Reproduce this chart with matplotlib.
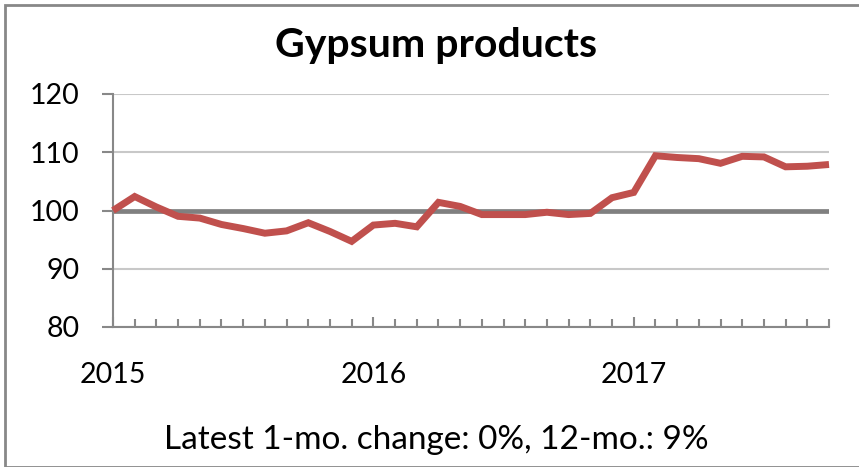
import matplotlib
matplotlib.use("Agg")
import matplotlib.pyplot as plt
from matplotlib.patches import Rectangle

plt.rcParams['font.family'] = ['Lato', 'DejaVu Sans']

# Monthly index, Jan 2015 - Oct 2017
months = list(range(34))
values = [100.0, 102.4, 100.6, 99.0, 98.7, 97.6, 96.9, 96.1, 96.5, 97.9, 96.4, 94.7,
          97.5, 97.8, 97.2, 101.4, 100.7, 99.3, 99.3, 99.3, 99.7, 99.3, 99.5, 102.2,
          103.1, 109.4, 109.1, 108.9, 108.1, 109.3, 109.2, 107.5, 107.6, 107.9]
year_ticks = [0, 12, 24]
year_labels = ['2015', '2016', '2017']
y_ticks = [80, 90, 100, 110, 120]
title = 'Gypsum products'
footer = 'Latest 1-mo. change: 0%, 12-mo.: 9%'

W, H = 859, 467
fig = plt.figure(figsize=(W / 100, H / 100), dpi=100)

# plot area in pixels: left 113, right 829, top 94, bottom 327
ax = fig.add_axes([113 / W, 1 - 327 / H, (829 - 113) / W, (327 - 94) / H])

ax.set_xlim(0, 33)
ax.set_ylim(80, 120)

ax.set_yticks(y_ticks)
ax.yaxis.grid(True, color='#c8c8c8', linewidth=1.5)
ax.set_axisbelow(True)
ax.axhline(100, color='#808080', linewidth=3.4, zorder=2)

ax.plot(months, values, color='#C0504D', linewidth=5.0, solid_joinstyle='miter',
        solid_capstyle='butt', zorder=3, clip_on=False)

ax.set_xticks(year_ticks)
ax.set_xticklabels(year_labels)
ax.set_xticks(months, minor=True)

for side in ('top', 'right'):
    ax.spines[side].set_visible(False)
for side in ('left', 'bottom'):
    ax.spines[side].set_color('#888888')
    ax.spines[side].set_linewidth(1.5)

ax.tick_params(axis='y', which='major', direction='out', length=8, width=1.5,
               color='#888888', pad=16, labelsize=20.5, labelcolor='black')
ax.tick_params(axis='x', which='major', direction='in', length=7.5, width=1.5,
               color='#888888', pad=25, labelsize=20.5, labelcolor='black')
ax.tick_params(axis='x', which='minor', direction='in', length=6, width=1.5,
               color='#888888')

fig.text(436 / W, 1 - 45 / H, title, ha='center', va='center',
         fontsize=29.5, fontweight='bold')
fig.text(436 / W, 1 - 440 / H, footer, ha='center', va='center', fontsize=24)

# outer chart border
fig.patches.append(Rectangle((5 / W, 0), 1, 1 - 5 / H, transform=fig.transFigure,
                             fill=False, edgecolor='#888888', linewidth=2))

fig.savefig('out.png', dpi=100)
